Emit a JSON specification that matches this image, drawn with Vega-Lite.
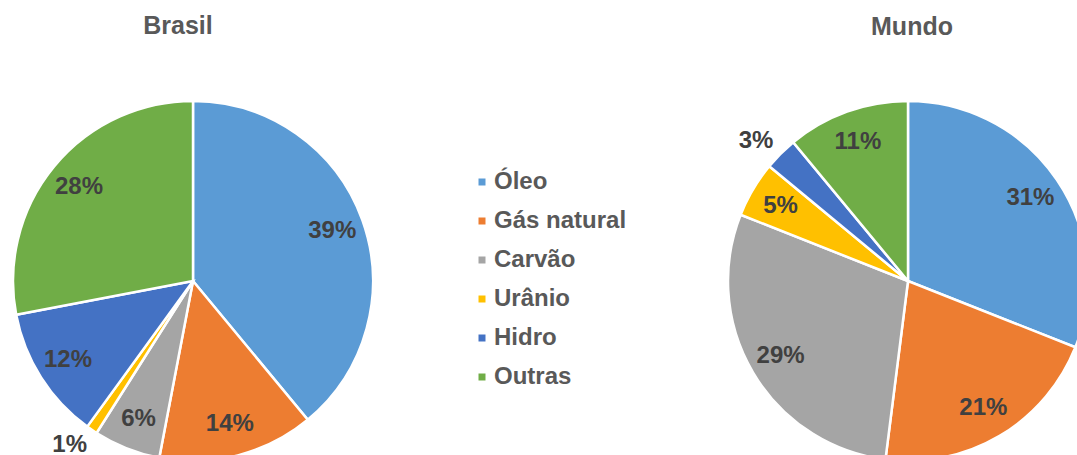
{
  "$schema": "https://vega.github.io/schema/vega-lite/v6.json",
  "background": "white",
  "padding": {"left": 0, "top": 14, "right": 0, "bottom": 0},
  "config": {"view": {"stroke": null}, "font": "Liberation Sans"},
  "data": {
    "values": [
      {"regiao": "Brasil", "fonte": "Óleo", "ordem": 1, "valor": 0.39},
      {"regiao": "Brasil", "fonte": "Gás natural", "ordem": 2, "valor": 0.14},
      {"regiao": "Brasil", "fonte": "Carvão", "ordem": 3, "valor": 0.06},
      {"regiao": "Brasil", "fonte": "Urânio", "ordem": 4, "valor": 0.01},
      {"regiao": "Brasil", "fonte": "Hidro", "ordem": 5, "valor": 0.12},
      {"regiao": "Brasil", "fonte": "Outras", "ordem": 6, "valor": 0.28},
      {"regiao": "Mundo", "fonte": "Óleo", "ordem": 1, "valor": 0.31},
      {"regiao": "Mundo", "fonte": "Gás natural", "ordem": 2, "valor": 0.21},
      {"regiao": "Mundo", "fonte": "Carvão", "ordem": 3, "valor": 0.29},
      {"regiao": "Mundo", "fonte": "Urânio", "ordem": 4, "valor": 0.05},
      {"regiao": "Mundo", "fonte": "Hidro", "ordem": 5, "valor": 0.03},
      {"regiao": "Mundo", "fonte": "Outras", "ordem": 6, "valor": 0.11}
    ]
  },
  "spacing": 329,
  "hconcat": [
    {
      "width": 386,
      "height": 360,
      "title": {"text": "Brasil", "fontSize": 25, "fontWeight": "bold", "color": "#595959", "offset": 57, "dx": -15, "anchor": "middle"},
      "transform": [{"filter": "datum.regiao === 'Brasil'"}],
      "encoding": {
        "theta": {"field": "valor", "type": "quantitative", "stack": true},
        "order": {"field": "ordem", "type": "quantitative"}
      },
      "layer": [
        {
          "mark": {"type": "arc", "outerRadius": 180, "stroke": "white", "strokeWidth": 2.5},
          "encoding": {
            "color": {
              "field": "fonte", "type": "nominal",
              "scale": {"domain": ["Óleo", "Gás natural", "Carvão", "Urânio", "Hidro", "Outras"], "range": ["#5B9BD5", "#ED7D31", "#A5A5A5", "#FFC000", "#4472C4", "#70AD47"]},
              "legend": {"orient": "none", "legendX": 470, "legendY": 69, "title": null, "symbolType": "square", "symbolSize": 49, "symbolStrokeWidth": 0, "labelFontSize": 24, "labelFontWeight": "bold", "labelColor": "#595959", "labelOffset": 0, "rowPadding": 15, "padding": 0}
            }
          }
        },
        {
          "mark": {"type": "text", "radius": 148, "fontSize": 24, "fontWeight": "bold", "fill": "#404040"},
          "encoding": {
            "detail": {"field": "fonte", "type": "nominal"},
            "text": {"condition": {"test": "datum.valor < 0.04", "value": ""}, "field": "valor", "type": "quantitative", "format": ".0%"}
          }
        },
        {
          "mark": {"type": "text", "radius": 198, "dx": -12, "fontSize": 24, "fontWeight": "bold", "fill": "#404040"},
          "encoding": {
            "detail": {"field": "fonte", "type": "nominal"},
            "text": {"condition": {"test": "datum.valor >= 0.04", "value": ""}, "field": "valor", "type": "quantitative", "format": ".0%"}
          }
        }
      ]
    },
    {
      "width": 386,
      "height": 360,
      "title": {"text": "Mundo", "fontSize": 25, "fontWeight": "bold", "color": "#595959", "offset": 43, "dx": 4, "anchor": "middle"},
      "transform": [{"filter": "datum.regiao === 'Mundo'"}],
      "encoding": {
        "theta": {"field": "valor", "type": "quantitative", "stack": true},
        "order": {"field": "ordem", "type": "quantitative"}
      },
      "layer": [
        {
          "mark": {"type": "arc", "outerRadius": 180, "stroke": "white", "strokeWidth": 2.5},
          "encoding": {
            "color": {"field": "fonte", "type": "nominal"}
          }
        },
        {
          "mark": {"type": "text", "radius": 148, "fontSize": 24, "fontWeight": "bold", "fill": "#404040"},
          "encoding": {
            "detail": {"field": "fonte", "type": "nominal"},
            "text": {"condition": {"test": "datum.valor < 0.04", "value": ""}, "field": "valor", "type": "quantitative", "format": ".0%"}
          }
        },
        {
          "mark": {"type": "text", "radius": 198, "dx": -12, "fontSize": 24, "fontWeight": "bold", "fill": "#404040"},
          "encoding": {
            "detail": {"field": "fonte", "type": "nominal"},
            "text": {"condition": {"test": "datum.valor >= 0.04", "value": ""}, "field": "valor", "type": "quantitative", "format": ".0%"}
          }
        }
      ]
    }
  ]
}
